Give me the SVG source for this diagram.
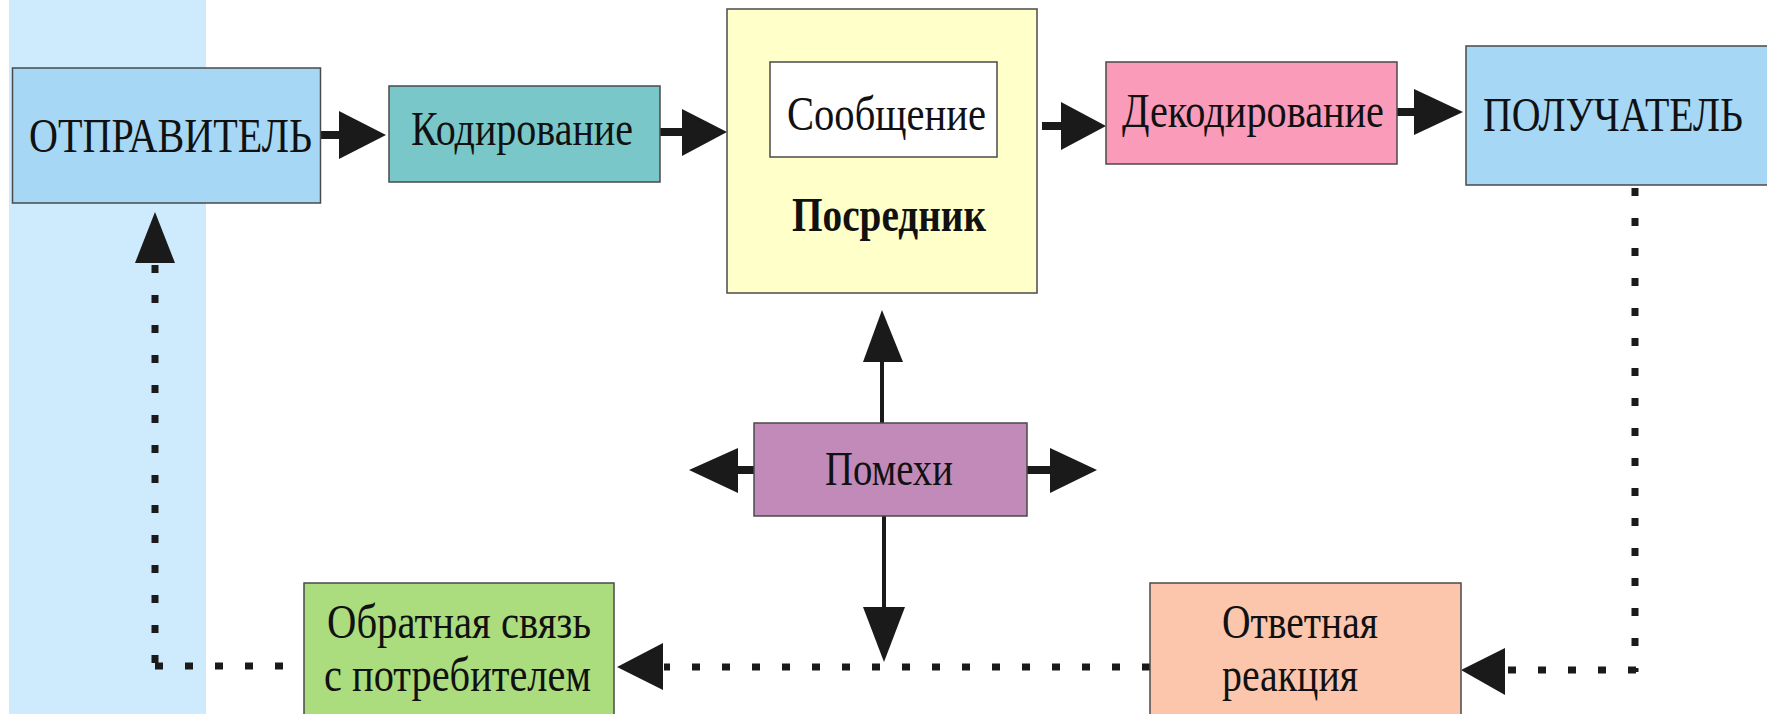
<svg xmlns="http://www.w3.org/2000/svg" width="1767" height="714" viewBox="0 0 1767 714">
<style>
.box{stroke:#4a4a4a;stroke-width:1.5}
.t{font-family:"Liberation Serif","Times New Roman",serif;font-size:49px;fill:#111}
.dot{fill:none;stroke:#1a1a1a;stroke-width:7;stroke-dasharray:8 22}
.sh{stroke:#1a1a1a;stroke-width:8}
.thin{stroke:#1a1a1a;stroke-width:4}
.hd{fill:#1a1a1a}
</style>
<rect x="0" y="0" width="1767" height="714" fill="#ffffff"/>
<rect id="band" x="9" y="0" width="197" height="714" fill="#cdebfd"/>

<g id="connectors">
  <line class="sh" x1="321" y1="135" x2="342" y2="135"/>
  <polygon class="hd" points="339,111 386,135 339,159"/>
  <line class="sh" x1="660" y1="132" x2="685" y2="132"/>
  <polygon class="hd" points="682,109 727,132 682,156"/>
  <line class="sh" x1="1042" y1="126" x2="1063" y2="126"/>
  <polygon class="hd" points="1061,102 1106,126 1061,150"/>
  <line class="sh" x1="1397" y1="112" x2="1417" y2="112"/>
  <polygon class="hd" points="1414,89 1463,112 1414,135"/>
  <line class="sh" x1="736" y1="470" x2="754" y2="470"/>
  <polygon class="hd" points="738,448 689,470 738,493"/>
  <line class="sh" x1="1027" y1="470" x2="1052" y2="470"/>
  <polygon class="hd" points="1050,448 1097,470 1050,493"/>
  <line class="thin" x1="882" y1="423" x2="882" y2="360"/>
  <polygon class="hd" points="863,362 882,310 903,362"/>
  <line class="thin" x1="884" y1="516" x2="884" y2="609"/>
  <polygon class="hd" points="863,607 884,662 905,607"/>
  <line class="dot" x1="1635" y1="188" x2="1635" y2="672"/>
  <line class="dot" x1="1636" y1="670" x2="1506" y2="670"/>
  <polygon class="hd" points="1505,648 1461,670 1505,695"/>
  <line class="dot" x1="1150" y1="667" x2="664" y2="667"/>
  <polygon class="hd" points="663,643 617,667 663,690"/>
  <line class="dot" x1="313" y1="666" x2="155" y2="666"/>
  <line class="dot" x1="155" y1="663" x2="155" y2="264"/>
  <polygon class="hd" points="135,263 155,212 175,263"/>
</g>

<g id="sender">
  <rect class="box" x="12.5" y="68" width="308" height="135" fill="#a6d8f6"/>
  <text class="t" x="29" y="152" textLength="283" lengthAdjust="spacingAndGlyphs">ОТПРАВИТЕЛЬ</text>
</g>
<g id="coding">
  <rect class="box" x="389" y="86" width="271" height="96" fill="#79c7c8"/>
  <text class="t" x="411" y="145" textLength="222" lengthAdjust="spacingAndGlyphs">Кодирование</text>
</g>
<g id="medium">
  <rect class="box" x="727" y="9" width="310" height="284" fill="#ffffca"/>
  <rect class="box" x="770" y="62" width="227" height="95" fill="#ffffff"/>
  <text class="t" x="787" y="130" textLength="199" lengthAdjust="spacingAndGlyphs">Сообщение</text>
  <text class="t" x="792" y="231" font-weight="bold" textLength="194" lengthAdjust="spacingAndGlyphs">Посредник</text>
</g>
<g id="decoding">
  <rect class="box" x="1106" y="62" width="291" height="102" fill="#f99bb9"/>
  <text class="t" x="1122" y="127" textLength="262" lengthAdjust="spacingAndGlyphs">Декодирование</text>
</g>
<g id="receiver">
  <rect class="box" x="1466" y="46" width="302" height="139" fill="#a6d8f6"/>
  <text class="t" x="1483" y="131" textLength="260" lengthAdjust="spacingAndGlyphs">ПОЛУЧАТЕЛЬ</text>
</g>
<g id="noise">
  <rect class="box" x="754" y="423" width="273" height="93" fill="#c28ab9"/>
  <text class="t" x="825" y="485" textLength="128" lengthAdjust="spacingAndGlyphs">Помехи</text>
</g>
<g id="feedback">
  <rect class="box" x="304" y="583" width="310" height="140" fill="#abdc7d"/>
  <text class="t" x="327" y="638" textLength="264" lengthAdjust="spacingAndGlyphs">Обратная связь</text>
  <text class="t" x="324" y="691" textLength="267" lengthAdjust="spacingAndGlyphs">с потребителем</text>
</g>
<g id="response">
  <rect class="box" x="1150" y="583" width="311" height="140" fill="#fcc6ad"/>
  <text class="t" x="1222" y="638" textLength="156" lengthAdjust="spacingAndGlyphs">Ответная</text>
  <text class="t" x="1222" y="691" textLength="136" lengthAdjust="spacingAndGlyphs">реакция</text>
</g>
</svg>
